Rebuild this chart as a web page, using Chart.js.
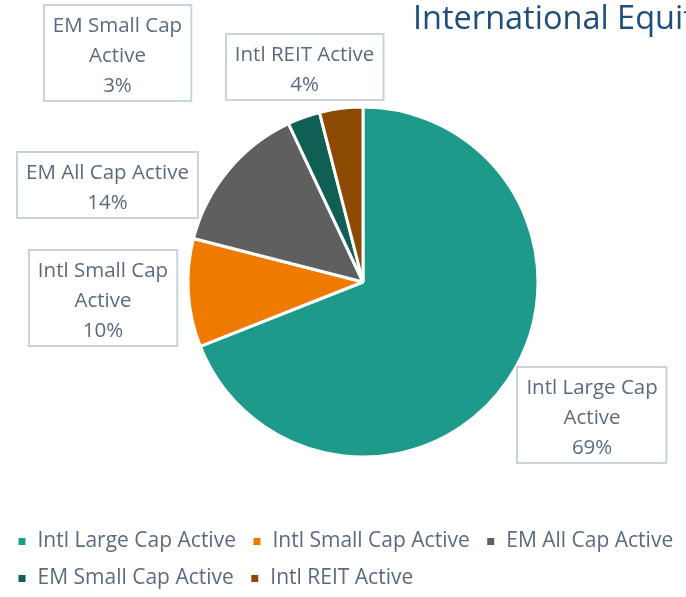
<!DOCTYPE html>
<html><head><meta charset="utf-8">
<script src="https://cdn.jsdelivr.net/npm/chart.js@4/dist/chart.umd.min.js"></script>
<style>html,body{margin:0;padding:0;background:#fff;overflow:hidden}#wrap{width:686px;height:597px;position:relative}</style>
</head><body><div id="wrap"><canvas id="c" width="686" height="597"></canvas></div>
<script>
const categories = ['Intl Large Cap Active', 'Intl Small Cap Active', 'EM All Cap Active', 'EM Small Cap Active', 'Intl REIT Active'];
const allocationPct = [69, 10, 14, 3, 4];
const sliceColors = ['#1E9A8A', '#EE7A00', '#5F5F5F', '#0F5F55', '#8B4A00'];
const chartTitle = 'International Equity';
// label box centres, relative to pie centre, in units of the pie radius
const labelOffsets = [[1.309, 0.760], [-1.486, 0.094], [-1.46, -0.554], [-1.403, -1.306], [-0.334, -1.226]];

const FONT = '"Open Sans", "DejaVu Sans", sans-serif';
const TEXT = '#5B6B7F';
const PIE_CENTER_X = 363;

function wrapText(ctx, text, maxW) {
  const words = text.split(' ');
  const lines = [];
  let cur = '';
  for (const w of words) {
    const t = cur ? cur + ' ' + w : w;
    if (cur && ctx.measureText(t).width > maxW) { lines.push(cur); cur = w; }
    else cur = t;
  }
  if (cur) lines.push(cur);
  return lines;
}

const shiftPie = {
  id: 'shiftPie',
  afterLayout(chart) {
    const ca = chart.chartArea;
    ca.right = Math.min(ca.right, chart.width);
    ca.left = 2 * PIE_CENTER_X - ca.right;
    ca.width = ca.right - ca.left;
  }
};

const titlePlugin = {
  id: 'sideTitle',
  afterDraw(chart) {
    const ctx = chart.ctx;
    ctx.save();
    ctx.font = '32.5px ' + FONT;
    ctx.fillStyle = '#1F4E79';
    ctx.textAlign = 'left';
    ctx.textBaseline = 'alphabetic';
    ctx.fillText(chartTitle, 413, 29);
    ctx.restore();
  }
};

const boxLabels = {
  id: 'boxLabels',
  afterDatasetsDraw(chart) {
    const ctx = chart.ctx;
    const meta = chart.getDatasetMeta(0);
    const data = chart.data.datasets[0].data;
    const total = data.reduce((a, b) => a + b, 0);
    ctx.save();
    ctx.font = '20.5px ' + FONT;
    meta.data.forEach((arc, i) => {
      const R = arc.outerRadius;
      const cx = arc.x + labelOffsets[i][0] * R;
      const cy = arc.y + labelOffsets[i][1] * R;
      const lines = wrapText(ctx, chart.data.labels[i], 178);
      lines.push(Math.round(data[i] / total * 100) + '%');
      const lh = 30;
      const w = Math.max(...lines.map(l => ctx.measureText(l).width)) + 18;
      const h = lines.length * lh + 6;
      const x0 = Math.round(cx - w / 2), y0 = Math.round(cy - h / 2);
      ctx.fillStyle = '#FFFFFF';
      ctx.fillRect(x0, y0, w, h);
      ctx.strokeStyle = '#C9D3DD';
      ctx.lineWidth = 2;
      ctx.strokeRect(x0, y0, w, h);
      ctx.fillStyle = TEXT;
      ctx.textAlign = 'center';
      ctx.textBaseline = 'middle';
      lines.forEach((l, k) => ctx.fillText(l, cx, y0 + 3 + lh / 2 + k * lh + 3));
    });
    ctx.restore();
  }
};

new Chart(document.getElementById('c'), {
  type: 'pie',
  data: {
    labels: categories,
    datasets: [{
      data: allocationPct,
      backgroundColor: sliceColors,
      borderColor: '#FFFFFF',
      borderWidth: 3,
      radius: 175
    }]
  },
  options: {
    responsive: false,
    animation: false,
    layout: { padding: { left: 1, right: -41, top: 49, bottom: -2 } },
    plugins: {
      tooltip: { enabled: false },
      title: { display: false },
      legend: {
        display: true,
        position: 'bottom',
        align: 'start',
        labels: {
          boxWidth: 10,
          boxHeight: 10,
          padding: 16,
          color: TEXT,
          font: { family: FONT, size: 21 }
        }
      }
    }
  },
  plugins: [shiftPie, boxLabels, titlePlugin]
});
</script></body></html>
